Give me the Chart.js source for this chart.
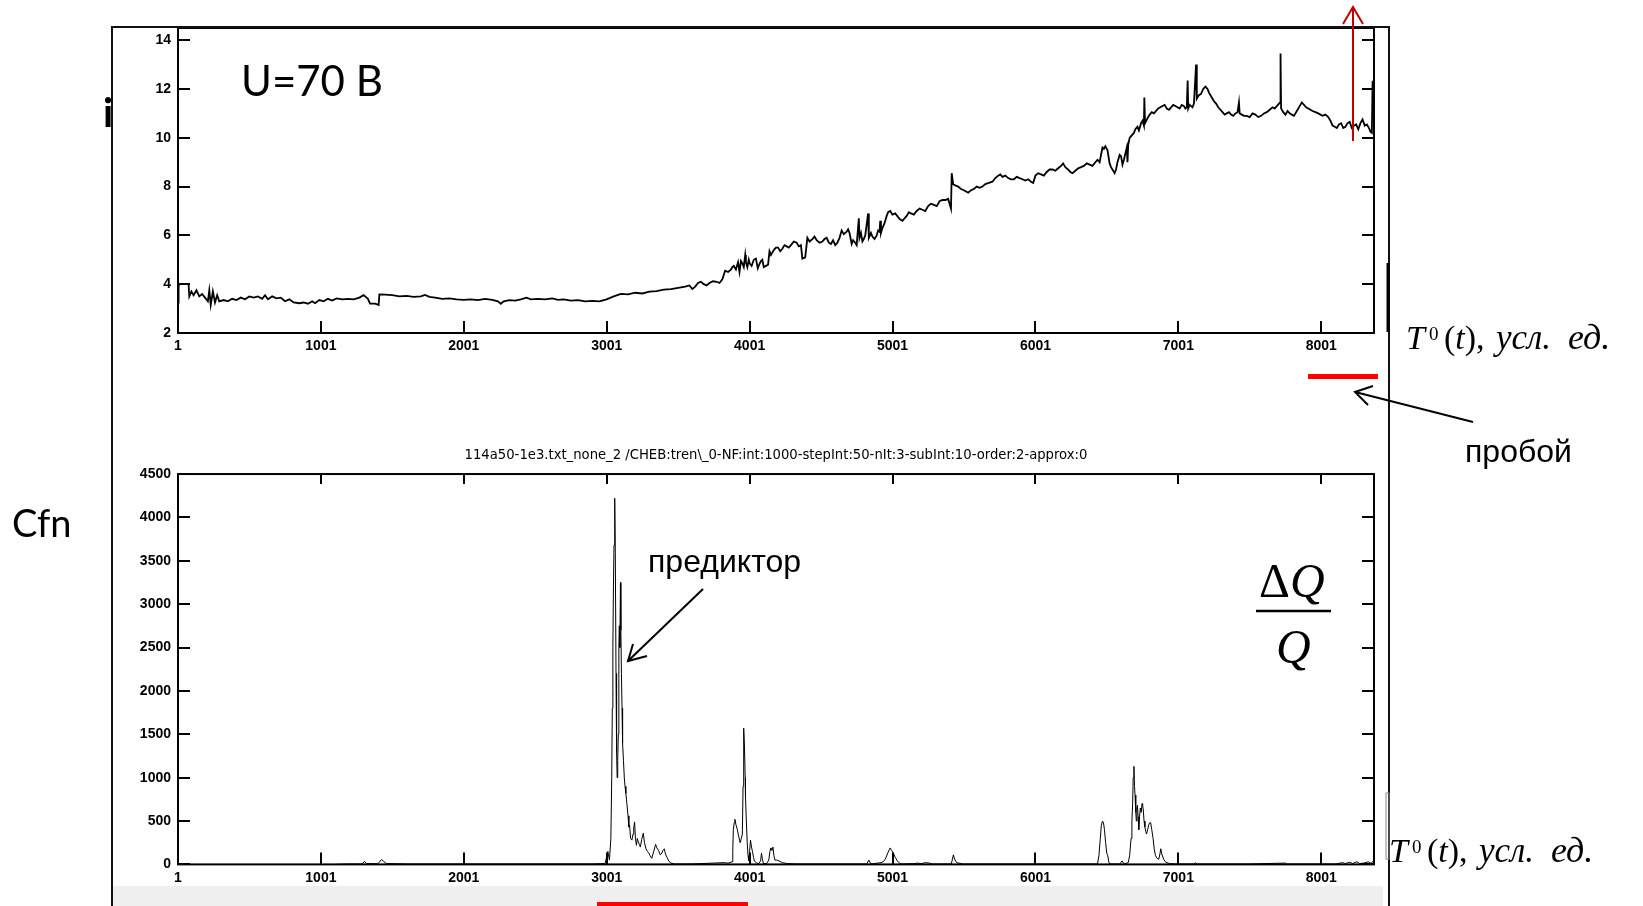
<!DOCTYPE html>
<html>
<head>
<meta charset="utf-8">
<script src="https://cdn.jsdelivr.net/npm/chart.js@4/dist/chart.umd.min.js"></script>
<style>
  body { margin: 0; background: #fff; }
  #wrap { position: relative; width: 1643px; height: 906px; overflow: hidden; background: #fff; }
  canvas { position: absolute; left: 0; }
  #band { position: absolute; left: 113px; top: 886px; width: 1270px; height: 20px; background: #efefef; }
  #over { position: absolute; left: 0; top: 0; }
</style>
</head>
<body>
<div id="wrap">
  <div id="band"></div>
  <canvas id="currentChart" width="1643" height="360" style="top:0"></canvas>
  <canvas id="ratioChart" width="1643" height="546" style="top:360px"></canvas>
  <svg id="over" width="1643" height="906" xmlns="http://www.w3.org/2000/svg">
    <!-- outer frame -->
    <path d="M112 906 V27 H1389 V906" fill="none" stroke="#111" stroke-width="2"/>
    <line x1="1388" y1="263" x2="1388" y2="332" stroke="#000" stroke-width="3"/>
    <rect x="1386" y="793" width="3" height="66" fill="none" stroke="#888" stroke-width="1"/>

    <!-- red marks -->
    <line x1="1353" y1="141" x2="1353" y2="8" stroke="#c00000" stroke-width="2"/>
    <polyline points="1343,24 1353,7 1363,24" fill="none" stroke="#c00000" stroke-width="2"/>
    <rect x="1308" y="374" width="70" height="5" fill="#ff0000"/>
    <rect x="597" y="902" width="151" height="4" fill="#ff0000"/>

    <!-- arrows -->
    <line x1="1473" y1="422" x2="1355" y2="392" stroke="#000" stroke-width="2"/>
    <polyline points="1373,386 1355,392 1368,405" fill="none" stroke="#000" stroke-width="2"/>
    <line x1="703" y1="589" x2="628" y2="661" stroke="#000" stroke-width="2"/>
    <polyline points="633,644 628,661 647,656" fill="none" stroke="#000" stroke-width="2"/>

    <!-- labels -->
    <text x="241" y="96" font-family="Lato" font-size="42" fill="#000">U=70 B</text>
    <text x="103" y="127" font-family="Lato" font-weight="bold" font-size="40" fill="#000">i</text>
    <text x="12" y="537" font-family="Lato" font-size="38" fill="#000">Cfn</text>
    <text x="648" y="572" font-family="Liberation Sans" font-size="32" fill="#000">предиктор</text>
    <text x="1465" y="462" font-family="Liberation Sans" font-size="32" fill="#000">пробой</text>

    <g font-family="Liberation Serif" fill="#000">
      <g>
        <text x="1406" y="349" font-size="34" font-style="italic">T</text>
        <text x="1429" y="340" font-size="19">0</text>
        <text x="1444" y="349" font-size="34">(<tspan font-style="italic">t</tspan>),</text>
        <text x="1496" y="349" font-size="35" font-style="italic">усл.</text>
        <text x="1568" y="349" font-size="36" font-style="italic">ед.</text>
      </g>
      <g transform="translate(-17,513)">
        <text x="1406" y="349" font-size="34" font-style="italic">T</text>
        <text x="1429" y="340" font-size="19">0</text>
        <text x="1444" y="349" font-size="34">(<tspan font-style="italic">t</tspan>),</text>
        <text x="1496" y="349" font-size="35" font-style="italic">усл.</text>
        <text x="1568" y="349" font-size="36" font-style="italic">ед.</text>
      </g>
      <text x="1259" y="597" font-size="48">Δ<tspan font-style="italic">Q</tspan></text>
      <line x1="1256" y1="611" x2="1331" y2="611" stroke="#000" stroke-width="2.5"/>
      <text x="1276" y="663" font-size="48" font-style="italic">Q</text>
    </g>
  </svg>
</div>

<script>
// ==========================================
// DATA
// ==========================================

const xTicks = [1, 1001, 2001, 3001, 4001, 5001, 6001, 7001, 8001];
const iTicks = [2, 4, 6, 8, 10, 12, 14];
const dqTicks = [0, 500, 1000, 1500, 2000, 2500, 3000, 3500, 4000, 4500];

const chartTitle = '114a50-1e3.txt_none_2 /CHEB:tren\\_0-NF:int:1000-stepInt:50-nIt:3-subInt:10-order:2-approx:0';

// upper panel: current i vs T0(t)
const iT = [
    1, 5, 10, 40, 75, 80, 95, 110, 130, 150, 170, 190, 210, 220, 230, 245, 260, 275, 290, 320,
    350, 380, 410, 440, 470, 500, 530, 560, 590, 610, 630, 660, 690, 720, 750, 780, 810, 850, 880, 910,
    940, 960, 990, 1020, 1050, 1080, 1110, 1150, 1190, 1230, 1270, 1300, 1330, 1345, 1380, 1405, 1410, 1450, 1500, 1550,
    1600, 1650, 1700, 1730, 1760, 1800, 1850, 1900, 1950, 2000, 2050, 2100, 2150, 2200, 2240, 2260, 2280, 2320, 2360, 2400,
    2440, 2470, 2520, 2570, 2620, 2660, 2700, 2750, 2800, 2850, 2900, 2950, 3000, 3050, 3100, 3150, 3200, 3250, 3300, 3350,
    3400, 3450, 3500, 3550, 3580, 3600, 3640, 3680, 3720, 3770, 3810, 3830, 3870, 3890, 3920, 3930, 3950, 3970, 3985, 4001,
    4030, 4058, 4080, 4100, 4130, 4140, 4170, 4200, 4230, 4260, 4290, 4330, 4360, 4370, 4390, 4405, 4440, 4470, 4510, 4540,
    4570, 4600, 4630, 4645, 4680, 4700, 4715, 4740, 4765, 4770, 4790, 4810, 4830, 4835, 4860, 4890, 4910, 4915, 4920, 4945,
    4970, 5000, 5040, 5070, 5100, 5130, 5170, 5210, 5250, 5290, 5330, 5370, 5400, 5410, 5415, 5425, 5460, 5500, 5530, 5570,
    5610, 5650, 5700, 5740, 5770, 5810, 5850, 5890, 5930, 5970, 6001, 6040, 6080, 6120, 6160, 6195, 6230, 6260, 6300, 6340,
    6380, 6420, 6450, 6470, 6490, 6505, 6520, 6540, 6555, 6575, 6600, 6620, 6640, 6645, 6660, 6690, 6715, 6740, 6760, 6763,
    6768, 6800, 6830, 6860, 6890, 6920, 6950, 6980, 7010, 7040, 7060, 7066, 7070, 7090, 7110, 7125, 7130, 7160, 7190, 7205,
    7230, 7250, 7280, 7310, 7340, 7370, 7400, 7425, 7430, 7460, 7500, 7540, 7580, 7620, 7660, 7690, 7713, 7716, 7720, 7750,
    7780, 7810, 7850, 7880, 7910, 7940, 7980, 8010, 8050, 8080, 8110, 8140, 8170, 8200, 8230, 8260, 8290, 8320, 8345, 8355,
    8360, 8365
];
const iVal = [
    3.25, 3.9, 4.0, 4.0, 4.0, 3.5, 3.7, 3.55, 3.75, 3.5, 3.6, 3.45, 3.3, 3.75, 3.15, 3.7, 3.25, 3.55, 3.3, 3.35,
    3.3, 3.4, 3.35, 3.45, 3.38, 3.5, 3.45, 3.5, 3.4, 3.55, 3.38, 3.5, 3.42, 3.45, 3.3, 3.38, 3.25, 3.22, 3.25, 3.2,
    3.3, 3.22, 3.35, 3.3, 3.4, 3.33, 3.42, 3.38, 3.4, 3.38, 3.45, 3.55, 3.4, 3.2, 3.2, 3.15, 3.58, 3.57, 3.55, 3.5,
    3.52, 3.48, 3.5, 3.56, 3.48, 3.45, 3.4, 3.42, 3.38, 3.36, 3.38, 3.35, 3.4, 3.36, 3.3, 3.2, 3.3, 3.35, 3.33, 3.38,
    3.45, 3.38, 3.4, 3.38, 3.42, 3.36, 3.38, 3.33, 3.35, 3.3, 3.32, 3.3, 3.38, 3.5, 3.6, 3.58, 3.65, 3.62, 3.7, 3.72,
    3.78, 3.8, 3.85, 3.9, 3.95, 3.8, 4.05, 4.0, 4.05, 4.1, 4.2, 4.55, 4.6, 4.75, 4.9, 4.5, 4.85, 5.2, 4.7, 4.85,
    5.0, 4.65, 4.95, 4.7, 4.8, 5.35, 5.4, 5.5, 5.45, 5.55, 5.6, 5.7, 5.6, 5.05, 5.1, 5.9, 5.85, 5.8, 5.75, 5.9,
    5.65, 5.6, 5.9, 6.2, 6.15, 6.1, 5.65, 5.7, 6.7, 5.9, 5.75, 6.0, 6.9, 5.9, 5.95, 6.0, 6.15, 6.6, 6.1, 6.5,
    6.95, 6.85, 6.75, 6.6, 6.8, 6.9, 7.0, 7.05, 7.2, 7.25, 7.4, 7.45, 7.3, 7.1, 8.55, 8.1, 8.0, 7.85, 7.75, 7.9,
    7.95, 8.1, 8.2, 8.45, 8.4, 8.35, 8.3, 8.35, 8.25, 8.2, 8.45, 8.5, 8.6, 8.7, 8.75, 8.95, 8.7, 8.55, 8.75, 8.85,
    8.9, 9.0, 9.0, 9.6, 9.65, 9.5, 8.95, 8.7, 8.55, 9.0, 9.25, 9.1, 9.6, 9.0, 10.0, 10.2, 10.45, 10.6, 10.5, 11.65,
    10.6, 10.95, 11.0, 11.2, 11.3, 11.2, 11.25, 11.3, 11.2, 11.3, 11.25, 12.35, 11.2, 11.3, 11.4, 13.0, 11.6, 11.8, 12.1, 12.0,
    11.7, 11.5, 11.25, 11.05, 11.0, 10.95, 11.0, 11.45, 11.0, 10.9, 10.85, 10.95, 10.9, 11.05, 11.25, 11.3, 11.45, 13.45, 11.2, 10.95,
    11.0, 10.9, 11.3, 11.35, 11.2, 11.1, 11.0, 10.9, 10.85, 10.5, 10.4, 10.6, 10.45, 10.65, 10.5, 10.35, 10.75, 10.55, 10.25, 10.2,
    12.3, 12.3
];
// finer wiggles of the same curve, read between the points above
const iDetailT = [
    3620, 3660, 3700, 3745, 3790, 3850, 3880, 3905, 3940, 3960, 3975, 3995, 4015, 4045, 4068, 4090, 4115, 4150, 4185, 4215,
    4245, 4275, 4310, 4345, 4420, 4455, 4490, 4525, 4555, 4585, 4615, 4660, 4690, 4725, 4750, 4780, 4800, 4850, 4875, 4900,
    4930, 4960, 4985, 5020, 5055, 5085, 5115, 5150, 5190, 5230, 5270, 5310, 5350, 5390, 5440, 5480, 5515, 5550, 5590, 5630,
    5675, 5720, 5755, 5790, 5830, 5870, 5910, 5950, 5985, 6020, 6060, 6100, 6140, 6180, 6210, 6245, 6280, 6320, 6360, 6400,
    6435, 6480, 6530, 6565, 6590, 6610, 6630, 6650, 6675, 6700, 6725, 6750, 6785, 6815, 6845, 6875, 6905, 6935, 6965, 6995,
    7025, 7050, 7080, 7100, 7145, 7175, 7215, 7240, 7265, 7295, 7325, 7355, 7385, 7415, 7445, 7480, 7520, 7560, 7600, 7640,
    7675, 7735, 7765, 7795, 7830, 7865, 7895, 7925, 7960, 7995, 8030, 8065, 8095, 8125, 8155, 8185, 8215, 8245, 8275, 8305,
    8335
];
const iDetailVal = [
    3.9, 4.1, 3.95, 4.12, 4.05, 4.5, 4.7, 4.6, 4.95, 4.7, 4.9, 5.0, 4.75, 5.05, 4.8, 5.0, 4.75, 5.2, 5.5, 5.35,
    5.6, 5.5, 5.75, 5.55, 5.75, 5.95, 5.7, 5.85, 5.7, 5.8, 5.7, 6.05, 6.25, 5.8, 5.6, 6.1, 5.85, 6.1, 5.85, 6.2,
    6.3, 6.8, 7.0, 6.9, 6.65, 6.7, 6.95, 6.85, 7.1, 7.0, 7.3, 7.2, 7.45, 7.5, 8.05, 7.9, 7.8, 7.85, 8.0, 8.0,
    8.15, 8.35, 8.5, 8.45, 8.3, 8.4, 8.3, 8.3, 8.15, 8.55, 8.45, 8.7, 8.65, 8.85, 8.8, 8.6, 8.65, 8.8, 8.95, 8.85,
    9.1, 9.55, 8.8, 8.7, 9.3, 8.9, 9.35, 9.7, 10.1, 10.35, 10.3, 10.7, 10.8, 11.05, 11.1, 11.25, 11.35, 11.15, 11.35, 11.25,
    11.35, 11.2, 11.35, 11.25, 11.75, 12.0, 11.85, 11.6, 11.4, 11.15, 10.95, 11.05, 10.9, 11.05, 10.95, 10.9, 11.0, 10.85, 11.0, 11.15,
    11.2, 11.05, 11.1, 10.95, 11.1, 11.45, 11.25, 11.15, 11.05, 10.95, 10.95, 10.7, 10.45, 10.55, 10.4, 10.6, 10.4, 10.55, 10.6, 10.5,
    10.4
];

// lower panel: ΔQ/Q vs T0(t)
const dqT = [
    1100, 1200, 1290, 1305, 1320, 1400, 1425, 1440, 1460, 1600, 2000, 2500, 2900, 2990, 3009, 3020, 3030, 3036, 3040, 3044,
    3048, 3052, 3057, 3061, 3066, 3070, 3074, 3078, 3082, 3086, 3089, 3093, 3097, 3100, 3104, 3108, 3112, 3118, 3124, 3129,
    3135, 3142, 3150, 3156, 3161, 3168, 3177, 3185, 3190, 3196, 3202, 3209, 3215, 3222, 3230, 3236, 3246, 3257, 3265, 3276,
    3285, 3295, 3305, 3316, 3330, 3343, 3352, 3364, 3375, 3383, 3395, 3404, 3412, 3423, 3435, 3450, 3476, 3600, 3821, 3850,
    3878, 3883, 3887, 3893, 3898, 3905, 3915, 3925, 3935, 3943, 3950, 3955, 3958, 3961, 3964, 3967, 3970, 3972, 3978, 3984,
    3990, 3995, 4001, 4007, 4014, 4021, 4028, 4035, 4050, 4064, 4078, 4084, 4090, 4098, 4120, 4135, 4143, 4150, 4157, 4164,
    4171, 4178, 4190, 4207, 4230, 4264, 4321, 4821, 4835, 4850, 4921, 4935, 4950, 4965, 4978, 4984, 4995, 5007, 5020, 5035,
    5050, 5064, 5150, 5180, 5200, 5230, 5260, 5280, 5412, 5420, 5427, 5435, 5450, 5492, 6200, 6435, 6445, 6455, 6462, 6470,
    6477, 6484, 6492, 6500, 6507, 6514, 6521, 6592, 6607, 6621, 6650, 6660, 6670, 6676, 6681, 6685, 6690, 6694, 6698, 6703,
    6707, 6711, 6715, 6719, 6724, 6729, 6735, 6741, 6747, 6751, 6755, 6761, 6767, 6773, 6778, 6786, 6795, 6801, 6807, 6815,
    6824, 6832, 6841, 6852, 6864, 6872, 6878, 6885, 6898, 6910, 6921, 6940, 6978, 7110, 7121, 7130, 7500, 7750, 7760, 8100,
    8150, 8170, 8200, 8220, 8250, 8270, 8300, 8330, 8350, 8365
];
const dqVal = [
    0, 5, 5, 35, 10, 8, 55, 35, 10, 5, 5, 5, 5, 10, 150, 50, 300, 1000, 1800, 2500,
    3200, 3680, 4220, 3600, 2200, 1300, 1000, 1200, 1500, 2500, 2750, 2500, 3250, 2700, 2200, 1800, 1400, 1200, 1000, 900,
    820, 700, 560, 430, 450, 300, 280, 350, 420, 490, 300, 220, 300, 260, 230, 200, 290, 360, 250, 180,
    150, 130, 100, 70, 150, 230, 190, 160, 110, 120, 160, 180, 120, 80, 40, 15, 5, 5, 20, 15,
    30, 150, 400, 480, 520, 460, 400, 320, 250, 300, 350, 900, 1250, 1570, 1400, 1400, 1000, 780, 500, 250,
    100, 40, 150, 280, 200, 150, 80, 40, 15, 10, 40, 130, 60, 10, 10, 50, 150, 190, 160, 200,
    100, 50, 50, 40, 20, 10, 5, 5, 50, 5, 20, 30, 60, 120, 170, 190, 160, 130, 80, 40,
    15, 5, 10, 15, 8, 20, 15, 5, 5, 60, 110, 60, 20, 5, 5, 5, 100, 300, 450, 500,
    480, 400, 250, 130, 100, 30, 5, 5, 40, 5, 20, 100, 300, 500, 700, 1000, 1130, 900, 800, 600,
    500, 650, 680, 550, 400, 550, 650, 600, 700, 680, 640, 500, 430, 380, 350, 400, 460, 480, 480, 400,
    300, 180, 100, 70, 60, 120, 180, 120, 60, 30, 20, 10, 5, 5, 20, 5, 5, 15, 5, 5,
    20, 10, 25, 10, 30, 10, 15, 30, 10, 40
];

// ==========================================
// HELPERS
// ==========================================

Chart.defaults.font.family = 'Liberation Sans';
Chart.defaults.color = '#000';

const pairs = (xs, ys) => xs.map((x, k) => ({ x: x, y: ys[k] }));
const currentPoints = pairs(iT, iVal).concat(pairs(iDetailT, iDetailVal)).sort((a, b) => a.x - b.x);

// MATLAB-like frame: box around plot area, ticks pointing inwards
const innerTicks = {
    id: 'innerTicks',
    afterDatasetsDraw(chart, args, opts) {
        const { ctx, chartArea: a, scales: { x, y } } = chart;
        const len = 12;
        ctx.save();
        ctx.strokeStyle = '#000';
        ctx.lineWidth = 2;
        ctx.beginPath();
        y.ticks.forEach(t => {
            const py = Math.round(y.getPixelForValue(t.value));
            ctx.moveTo(a.left, py); ctx.lineTo(a.left + len, py);
            ctx.moveTo(a.right, py); ctx.lineTo(a.right - len, py);
        });
        x.ticks.forEach(t => {
            const px = Math.round(x.getPixelForValue(t.value));
            ctx.moveTo(px, a.bottom); ctx.lineTo(px, a.bottom - len);
            if (opts.top) { ctx.moveTo(px, a.top); ctx.lineTo(px, a.top + 10); }
        });
        ctx.stroke();
        ctx.strokeRect(a.left, a.top, a.right - a.left, a.bottom - a.top);
        ctx.restore();
    }
};

function axisX() {
    return {
        type: 'linear',
        min: 1,
        max: 8370,
        clip: false,
        grid: { display: false, drawTicks: false },
        border: { display: false },
        afterBuildTicks: s => { s.ticks = xTicks.map(v => ({ value: v })); },
        afterFit: s => { s.height = 20; },
        ticks: {
            padding: 5, maxRotation: 0, autoSkip: false,
            font: { size: 14, weight: 'bold' },
            callback: v => String(v)
        }
    };
}

function axisY(min, max, list) {
    return {
        type: 'linear',
        min: min,
        max: max,
        clip: false,
        grid: { display: false, drawTicks: false },
        border: { display: false },
        afterBuildTicks: s => { s.ticks = list.map(v => ({ value: v })); },
        afterFit: s => { s.width = 40; },
        ticks: {
            padding: 7,
            font: { size: 14, weight: 'bold' },
            callback: v => String(v)
        }
    };
}

// ==========================================
// UPPER PANEL
// ==========================================

new Chart(document.getElementById('currentChart'), {
    type: 'line',
    data: {
        datasets: [{
            data: currentPoints,
            borderColor: '#000',
            borderWidth: 1.8,
            pointRadius: 0,
            tension: 0
        }]
    },
    options: {
        responsive: false,
        animation: false,
        layout: { padding: { left: 138, right: 269, top: 28, bottom: 7 } },
        plugins: { legend: { display: false }, tooltip: { enabled: false }, innerTicks: { top: false } },
        scales: { x: axisX(), y: axisY(2, 14.5, iTicks) }
    },
    plugins: [innerTicks]
});

// ==========================================
// LOWER PANEL
// ==========================================

new Chart(document.getElementById('ratioChart'), {
    type: 'line',
    data: {
        datasets: [{
            data: pairs(dqT, dqVal),
            borderColor: '#000',
            borderWidth: 1,
            pointRadius: 0,
            tension: 0
        }]
    },
    options: {
        responsive: false,
        animation: false,
        layout: { padding: { left: 138, right: 269, top: 87.6, bottom: 21.6 } },
        plugins: {
            legend: { display: false },
            tooltip: { enabled: false },
            innerTicks: { top: true },
            title: {
                display: true,
                text: chartTitle,
                fullSize: false,
                color: '#000',
                font: { family: 'DejaVu Sans', size: 13.2, weight: 'normal' },
                padding: { top: 0, bottom: 10.6 }
            }
        },
        scales: { x: axisX(), y: axisY(0, 4500, dqTicks) }
    },
    plugins: [innerTicks]
});
</script>
</body>
</html>
